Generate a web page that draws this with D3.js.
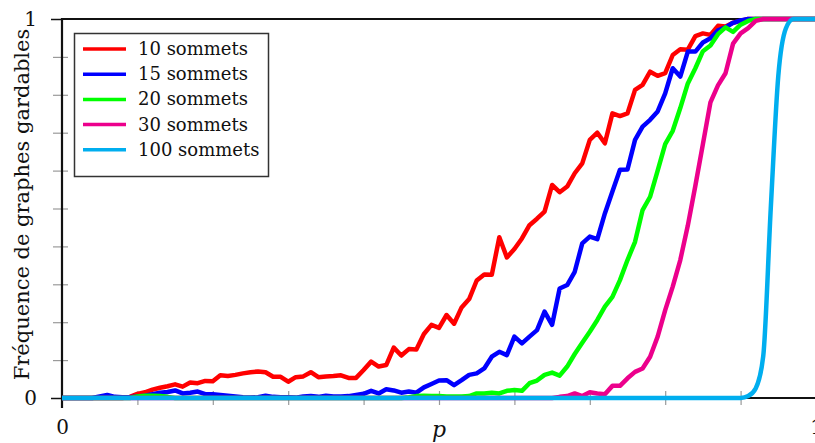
<!DOCTYPE html>
<html>
<head>
<meta charset="utf-8">
<script src="https://cdn.jsdelivr.net/npm/d3@7"></script>
<style>
  html, body { margin: 0; padding: 0; background: #ffffff; }
  svg { display: block; }
  text { font-family: "DejaVu Serif", serif; fill: #111; }
</style>
</head>
<body>
<svg id="chart" width="815" height="443"></svg>
<script>
// Sampled edge probabilities p (0.00 to 1.00 in steps of 0.01)
const pValues = [
  0.00,0.01,0.02,0.03,0.04,0.05,0.06,0.07,0.08,0.09,
  0.10,0.11,0.12,0.13,0.14,0.15,0.16,0.17,0.18,0.19,
  0.20,0.21,0.22,0.23,0.24,0.25,0.26,0.27,0.28,0.29,
  0.30,0.31,0.32,0.33,0.34,0.35,0.36,0.37,0.38,0.39,
  0.40,0.41,0.42,0.43,0.44,0.45,0.46,0.47,0.48,0.49,
  0.50,0.51,0.52,0.53,0.54,0.55,0.56,0.57,0.58,0.59,
  0.60,0.61,0.62,0.63,0.64,0.65,0.66,0.67,0.68,0.69,
  0.70,0.71,0.72,0.73,0.74,0.75,0.76,0.77,0.78,0.79,
  0.80,0.81,0.82,0.83,0.84,0.85,0.86,0.87,0.88,0.89,
  0.90,0.91,0.92,0.93,0.94,0.95,0.96,0.97,0.98,0.99,
  1.00
];

// Frequency of "gardable" graphs for each graph size
const freq10 = [
  0,0,0,0,0,0,0,0,0,0.003,
  0.011,0.015,0.022,0.027,0.031,0.036,0.030,0.041,0.039,0.045,
  0.044,0.060,0.058,0.061,0.065,0.068,0.070,0.068,0.056,0.056,
  0.043,0.055,0.057,0.068,0.055,0.057,0.058,0.060,0.053,0.053,
  0.074,0.096,0.083,0.087,0.133,0.112,0.129,0.128,0.169,0.193,
  0.185,0.219,0.196,0.239,0.261,0.310,0.326,0.325,0.424,0.371,
  0.393,0.421,0.456,0.473,0.492,0.562,0.543,0.558,0.593,0.619,
  0.681,0.700,0.672,0.751,0.744,0.751,0.813,0.826,0.861,0.850,
  0.857,0.905,0.920,0.919,0.955,0.962,0.958,0.982,0.980,0.990,
  0.995,1,1,1,1,1,1,1,1,1,
  1
];
const freq15 = [
  0,0,0,0,0,0.004,0.008,0.003,0.002,0.002,
  0.004,0.006,0.010,0.014,0.016,0.020,0.012,0.014,0.017,0.010,
  0.010,0.008,0.006,0.004,0.002,0.001,0.002,0.006,0.003,0.002,
  0.002,0.001,0.004,0.005,0.003,0.006,0.004,0.004,0.005,0.008,
  0.011,0.019,0.012,0.023,0.020,0.014,0.017,0.014,0.028,0.037,
  0.046,0.047,0.034,0.047,0.061,0.065,0.078,0.109,0.122,0.113,
  0.162,0.144,0.162,0.179,0.228,0.193,0.289,0.298,0.333,0.408,
  0.426,0.419,0.487,0.545,0.602,0.603,0.681,0.716,0.734,0.756,
  0.804,0.870,0.848,0.914,0.914,0.938,0.949,0.970,0.978,0.990,
  0.996,1,1,1,1,1,1,1,1,1,
  1
];
const freq20 = [
  0,0,0,0,0,0,0,0,0,0,
  0.004,0.006,0.006,0.005,0.003,0,0,0,0,0,
  0,0,0,0,0,0,0,0,0,0,
  0,0,0,0,0,0,0,0,0,0,
  0,0,0,0,0,0,0.002,0.005,0.006,0.005,
  0.005,0.004,0.004,0.004,0.005,0.012,0.012,0.014,0.012,0.019,
  0.021,0.019,0.039,0.046,0.061,0.067,0.059,0.083,0.116,0.146,
  0.175,0.206,0.241,0.267,0.311,0.364,0.412,0.496,0.531,0.600,
  0.670,0.705,0.765,0.830,0.870,0.915,0.930,0.960,0.978,0.966,
  0.985,0.995,1,1,1,1,1,1,1,1,
  1
];
const freq30 = [
  0,0,0,0,0,0,0,0,0,0,
  0,0,0,0,0,0,0,0,0,0,
  0,0,0,0,0,0,0,0,0,0,
  0,0,0,0,0,0,0,0,0,0,
  0,0,0,0,0,0,0,0,0,0,
  0,0,0,0,0,0,0,0,0,0,
  0,0,0,0,0,0,0.003,0.005,0.012,0.005,
  0.015,0.012,0.010,0.032,0.032,0.052,0.069,0.078,0.109,0.162,
  0.232,0.294,0.364,0.455,0.560,0.670,0.780,0.825,0.857,0.935,
  0.962,0.976,0.995,1,1,1,1,1,1,1,
  1
];
const freq100 = [
  0,0,0,0,0,0,0,0,0,0,
  0,0,0,0,0,0,0,0,0,0,
  0,0,0,0,0,0,0,0,0,0,
  0,0,0,0,0,0,0,0,0,0,
  0,0,0,0,0,0,0,0,0,0,
  0,0,0,0,0,0,0,0,0,0,
  0,0,0,0,0,0,0,0,0,0,
  0,0,0,0,0,0,0,0,0,0,
  0,0,0,0,0,0,0,0,0,0,
  0,0.005,0.025,0.110,0.500,0.850,0.975,1,1,1,
  1
];

const seriesLabels = ["10 sommets", "15 sommets", "20 sommets", "30 sommets", "100 sommets"];
const seriesColors = ["#ff0000", "#0000ff", "#00ff00", "#ec008c", "#00aeef"];
const seriesValues = [freq10, freq15, freq20, freq30, freq100];

const xTickLabels = ["0", "1"];
const yTickLabels = ["0", "1"];
const minorTicks = [0.1,0.2,0.3,0.4,0.5,0.6,0.7,0.8,0.9];

const svg = d3.select("#chart");
const plotLeft = 62, plotRight = 816, plotTop = 19, plotBottom = 398;

const x = d3.scaleLinear().domain([0, 1]).range([plotLeft, plotRight]);
const y = d3.scaleLinear().domain([0, 1]).range([plotBottom, plotTop]);

// Minor ticks (grey, crossing the axes)
const xMinor = svg.append("g")
  .attr("transform", `translate(0,${plotBottom - 7})`)
  .call(d3.axisBottom(x).tickValues(minorTicks).tickSize(14).tickFormat(""));
xMinor.select(".domain").remove();
xMinor.selectAll("line").attr("stroke", "#9a9a9a").attr("stroke-width", 1.2);

const yMinor = svg.append("g")
  .attr("transform", `translate(${plotLeft + 6},0)`)
  .call(d3.axisLeft(y).tickValues(minorTicks).tickSize(15).tickFormat(""));
yMinor.select(".domain").remove();
yMinor.selectAll("line").attr("stroke", "#9a9a9a").attr("stroke-width", 1.2);

// Frame: top and bottom lines, left axis
svg.append("line").attr("x1", plotLeft).attr("x2", 815).attr("y1", plotTop).attr("y2", plotTop)
  .attr("stroke", "#111").attr("stroke-width", 2);
svg.append("line").attr("x1", plotLeft).attr("x2", 815).attr("y1", plotBottom).attr("y2", plotBottom)
  .attr("stroke", "#111").attr("stroke-width", 2);
svg.append("line").attr("x1", plotLeft).attr("x2", plotLeft).attr("y1", plotTop - 1).attr("y2", plotBottom + 10)
  .attr("stroke", "#111").attr("stroke-width", 2.2);

// Major y ticks and labels at 0 and 1
const yAxis = svg.append("g")
  .attr("transform", `translate(${plotLeft},0)`)
  .call(d3.axisLeft(y).tickValues([0, 1]).tickSize(11).tickPadding(14)
    .tickFormat((d, i) => yTickLabels[i]));
yAxis.select(".domain").remove();
yAxis.selectAll("line").attr("stroke", "#111").attr("stroke-width", 1.5);
yAxis.selectAll("text").attr("font-family", "DejaVu Serif").attr("font-size", 20).attr("fill", "#111");

// x labels at 0 and 1
const xAxis = svg.append("g")
  .attr("transform", `translate(0,${plotBottom})`)
  .call(d3.axisBottom(x).tickValues([0, 1]).tickSize(0).tickPadding(22)
    .tickFormat((d, i) => xTickLabels[i]));
xAxis.select(".domain").remove();
xAxis.selectAll("text").attr("font-family", "DejaVu Serif").attr("font-size", 20).attr("fill", "#111");

// Axis titles
svg.append("text")
  .attr("x", x(0.5)).attr("y", 437)
  .attr("text-anchor", "middle")
  .attr("font-size", 22).attr("font-style", "italic")
  .text("p");

svg.append("text")
  .attr("transform", `translate(29,${(plotTop + plotBottom) / 2 - 4}) rotate(-90)`)
  .attr("text-anchor", "middle")
  .attr("font-size", 21)
  .text("Fréquence de graphes gardables");

// Curves
const line = d3.line()
  .x((d, i) => x(pValues[i]))
  .y(d => y(d));
const smoothLine = d3.line()
  .x((d, i) => x(pValues[i]))
  .y(d => y(d))
  .curve(d3.curveMonotoneX);

seriesValues.forEach((vals, k) => {
  svg.append("path")
    .datum(vals)
    .attr("d", k === 4 ? smoothLine : line)
    .attr("fill", "none")
    .attr("stroke", seriesColors[k])
    .attr("stroke-width", 4.5)
    .attr("stroke-linejoin", "round")
    .attr("stroke-linecap", "butt");
});

// Legend
const lg = svg.append("g");
lg.append("rect")
  .attr("x", 74.5).attr("y", 33.5).attr("width", 194).attr("height", 143)
  .attr("fill", "#fff").attr("stroke", "#333").attr("stroke-width", 1.5);
seriesLabels.forEach((lab, k) => {
  const yy = 49 + k * 25.2;
  lg.append("line").attr("x1", 83).attr("x2", 126).attr("y1", yy).attr("y2", yy)
    .attr("stroke", seriesColors[k]).attr("stroke-width", 3.5);
  lg.append("text").attr("x", 138).attr("y", yy + 6)
    .attr("font-size", 18).text(lab);
});
</script>
</body>
</html>
